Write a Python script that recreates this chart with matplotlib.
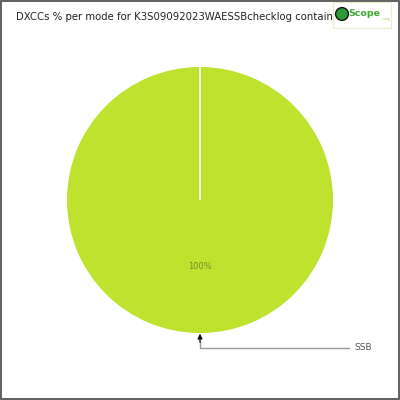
import matplotlib
matplotlib.use("Agg")
import numpy as np
import matplotlib.pyplot as plt
from matplotlib.patches import Rectangle, Circle

modes = ["SSB"]
values = [100]
colors = ["#bfe22f"]
title = "DXCCs % per mode for K3S09092023WAESSBchecklog contains"

fig = plt.figure(figsize=(4, 4), dpi=100)
fig.patch.set_facecolor("white")

# frame
fig.add_artist(Rectangle((0.0025, 0.0025), 0.995, 0.995, transform=fig.transFigure,
                         fill=False, edgecolor="#444444", linewidth=1.2))

# title (clipped under logo)
fig.text(0.04, 0.957, title, fontsize=7.3, family="DejaVu Sans Condensed",
         color="#222222", va="center", ha="left", zorder=1)

# logo box
fig.add_artist(Rectangle((0.832, 0.93), 0.145, 0.065, transform=fig.transFigure,
                         facecolor="white", edgecolor="#e6efc8", linewidth=0.8, zorder=5))
fig.add_artist(Circle((0.855, 0.965), 0.016, transform=fig.transFigure,
                      facecolor="#2e9a3a", edgecolor="#111111", linewidth=1.0, zorder=6))
fig.text(0.872, 0.965, "Scope", fontsize=6.8, color="#3da832", fontweight="bold",
         family="DejaVu Sans Condensed", va="center", ha="left", zorder=6)
fig.text(0.957, 0.952, ".org", fontsize=2.8, color="#9ccc6a", va="center", ha="left", zorder=6)

ax = fig.add_axes([67/400, 67/400, 266/400, 266/400])
wedges, texts, autotexts = ax.pie(values, colors=colors, startangle=90, counterclock=False,
                                  autopct="%d%%", pctdistance=0.5,
                                  wedgeprops=dict(edgecolor="none"))
for t in autotexts:
    t.set_color("#6f8f2a")
    t.set_fontsize(6)
    t.set_family("DejaVu Sans Condensed")
# white separator line at the wedge start
for w in wedges:
    th = np.deg2rad(w.theta1)
    ax.plot([0, np.cos(th)], [0, np.sin(th)], color="white", lw=1.2, solid_capstyle="butt")
ax.set_xlim(-1, 1)
ax.set_ylim(-1, 1)
ax.set_aspect("equal")
ax.axis("off")

ax.annotate(modes[0], xy=(0, -1.06), xytext=(1.16, -1.11), textcoords="data",
            fontsize=6.5, color="#555555", family="DejaVu Sans Condensed", va="center",
            annotation_clip=False,
            arrowprops=dict(arrowstyle="-", color="#999999", lw=1.0, shrinkA=2, shrinkB=0,
                            connectionstyle="angle,angleA=0,angleB=90,rad=0"))
ax.annotate("", xy=(0, -1.005), xytext=(0, -1.07), textcoords="data",
            annotation_clip=False,
            arrowprops=dict(arrowstyle="-|>", color="#111111", lw=0.9, shrinkA=0, shrinkB=0,
                            mutation_scale=7))

fig.savefig("out.png", dpi=100, facecolor="white")
